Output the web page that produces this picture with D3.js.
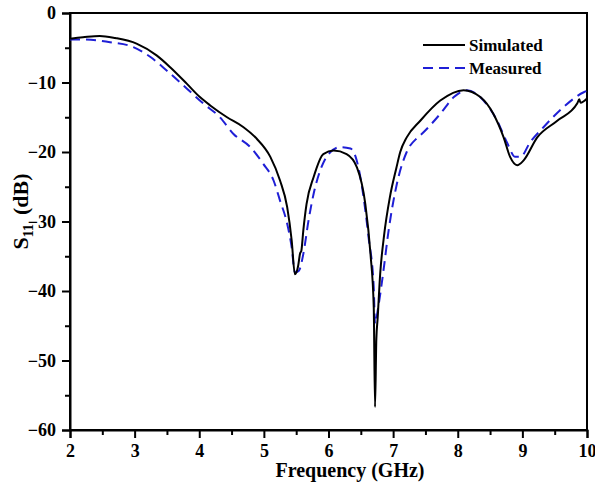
<!DOCTYPE html>
<html>
<head>
<meta charset="utf-8">
<script src="https://cdn.jsdelivr.net/npm/d3@7"></script>
<style>
  body { margin: 0; background: #fff; }
  svg text { font-family: "Liberation Serif", "Times New Roman", serif !important; font-weight: bold; fill: #000; }
</style>
</head>
<body>
<svg id="chart"></svg>
<script>
// frequency in GHz, S11 in dB
const simFreq = [2.0, 2.2, 2.46, 2.7, 3.03, 3.34, 3.55, 3.81, 4.01, 4.17, 4.43, 4.68, 4.89, 5.10, 5.25, 5.36, 5.43, 5.48,
  5.53, 5.56, 5.58, 5.61, 5.66, 5.77, 5.92, 6.08, 6.28, 6.44, 6.57, 6.65, 6.70, 6.72, 6.74, 6.76, 6.80, 6.86, 6.95,
  7.05, 7.11, 7.21, 7.42, 7.73, 8.09, 8.35, 8.55, 8.71, 8.81, 8.92, 9.02, 9.23, 9.54, 9.85, 9.88, 9.90, 10.0];
const simDb = [-3.7, -3.5, -3.3, -3.6, -4.4, -6.1, -7.8, -10.2, -12.1, -13.3, -15.0, -16.4, -18.1, -20.7, -24.1, -27.9, -32.7, -37.6,
  -36.4, -34.6, -34.2, -31.3, -27.5, -23.6, -20.3, -19.8, -20.3, -22.2, -27.5, -34.7, -42.3, -56.7, -47.0, -44.0, -37.5, -32.0, -26.5,
  -22.3, -20.0, -17.9, -15.5, -12.6, -11.1, -12.1, -14.5, -17.9, -20.7, -21.9, -21.2, -17.9, -15.5, -13.0, -12.4, -12.9, -12.3];

const measFreq = [2.0, 2.15, 2.62, 2.98, 3.24, 3.50, 3.81, 4.06, 4.32, 4.53, 4.79, 4.99, 5.15, 5.25, 5.36, 5.43, 5.48, 5.54,
  5.61, 5.69, 5.77, 5.87, 6.00, 6.18, 6.34, 6.42, 6.52, 6.62, 6.70, 6.72, 6.77, 6.85, 6.93, 7.06, 7.21, 7.37, 7.42, 7.73,
  7.94, 8.14, 8.40, 8.61, 8.76, 8.89, 8.97, 9.12, 9.33, 9.64, 9.95, 10.0];
const measDb = [-3.8, -3.8, -4.2, -4.9, -6.3, -8.3, -10.9, -13.0, -15.0, -17.4, -19.3, -21.7, -24.1, -27.0, -30.3, -33.7, -37.3, -37.1,
  -34.7, -29.9, -26.0, -22.7, -20.3, -19.3, -19.5, -20.7, -25.1, -32.3, -39.5, -44.7, -42.3, -37.1, -31.3, -24.5, -20.0, -18.0, -17.6, -14.5,
  -12.1, -11.1, -12.6, -15.5, -18.6, -20.7, -20.7, -18.6, -16.4, -13.5, -11.4, -11.2];

const xTicks = [2, 3, 4, 5, 6, 7, 8, 9, 10];
const yTicks = [0, -10, -20, -30, -40, -50, -60];

const series = [
  { name: "Simulated", freq: simFreq, db: simDb, color: "#000000", dash: null },
  { name: "Measured", freq: measFreq, db: measDb, color: "#1f1fd6", dash: "10,6" }
];

const margin = { top: 13, right: 8, bottom: 61, left: 70 };
const width = 595 - margin.left - margin.right;
const height = 491 - margin.top - margin.bottom;

const svg = d3.select("#chart").attr("width", 595).attr("height", 491);
const g = svg.append("g").attr("transform", `translate(${margin.left},${margin.top})`);

const x = d3.scaleLinear().domain([2, 10]).range([0, width]);
const y = d3.scaleLinear().domain([-60, 0]).range([height, 0]);

// frame on top and right
g.append("rect")
  .attr("width", width).attr("height", height)
  .attr("fill", "none").attr("stroke", "#000").attr("stroke-width", 2);

// minor ticks
g.append("g")
  .attr("transform", `translate(0,${height})`)
  .call(d3.axisBottom(x).tickValues(d3.range(2.5, 10, 1)).tickSize(5).tickFormat(""))
  .call(a => a.select(".domain").remove())
  .selectAll("line").attr("stroke-width", 2);
g.append("g")
  .call(d3.axisLeft(y).tickValues(d3.range(-55, 0, 10)).tickSize(5).tickFormat(""))
  .call(a => a.select(".domain").remove())
  .selectAll("line").attr("stroke-width", 2);

const xAxis = g.append("g")
  .attr("transform", `translate(0,${height})`)
  .call(d3.axisBottom(x).tickValues(xTicks).tickSize(8).tickPadding(6));
const yAxis = g.append("g")
  .call(d3.axisLeft(y).tickValues(yTicks).tickSize(8).tickPadding(6));

[xAxis, yAxis].forEach(a => {
  a.attr("font-family", null);
  a.select(".domain").attr("stroke-width", 2);
  a.selectAll(".tick line").attr("stroke-width", 2);
  a.selectAll("text").style("font-size", "18px");
});

const line = d3.line()
  .x(d => x(d[0]))
  .y(d => y(d[1]))
  .curve(d3.curveMonotoneX);

series.slice().reverse().forEach(s => {
  g.append("path")
    .datum(s.freq.map((f, i) => [f, s.db[i]]))
    .attr("fill", "none")
    .attr("stroke", s.color)
    .attr("stroke-width", 2)
    .attr("stroke-dasharray", s.dash)
    .attr("d", line);
});

// legend
const legend = g.append("g").attr("transform", `translate(${width - 164},32)`);
series.forEach((s, i) => {
  const row = legend.append("g").attr("transform", `translate(0,${i * 23})`);
  row.append("line")
    .attr("x1", 0).attr("x2", 42)
    .attr("stroke", s.color).attr("stroke-width", 2)
    .attr("stroke-dasharray", s.dash);
  row.append("text")
    .attr("x", 46).attr("y", 6)
    .style("font-size", "17px")
    .text(s.name);
});

// axis titles
svg.append("text")
  .attr("x", 350).attr("y", 477)
  .attr("text-anchor", "middle")
  .style("font-size", "20px")
  .text("Frequency (GHz)");

const yLabel = svg.append("text")
  .attr("transform", `translate(28,${margin.top + height / 2 - 10}) rotate(-90)`)
  .attr("text-anchor", "middle")
  .style("font-size", "22px");
yLabel.append("tspan").text("S");
yLabel.append("tspan").style("font-size", "14px").attr("dy", 5).text("11");
yLabel.append("tspan").attr("dy", -5).attr("dx", 9).text("(dB)");
</script>
</body>
</html>
